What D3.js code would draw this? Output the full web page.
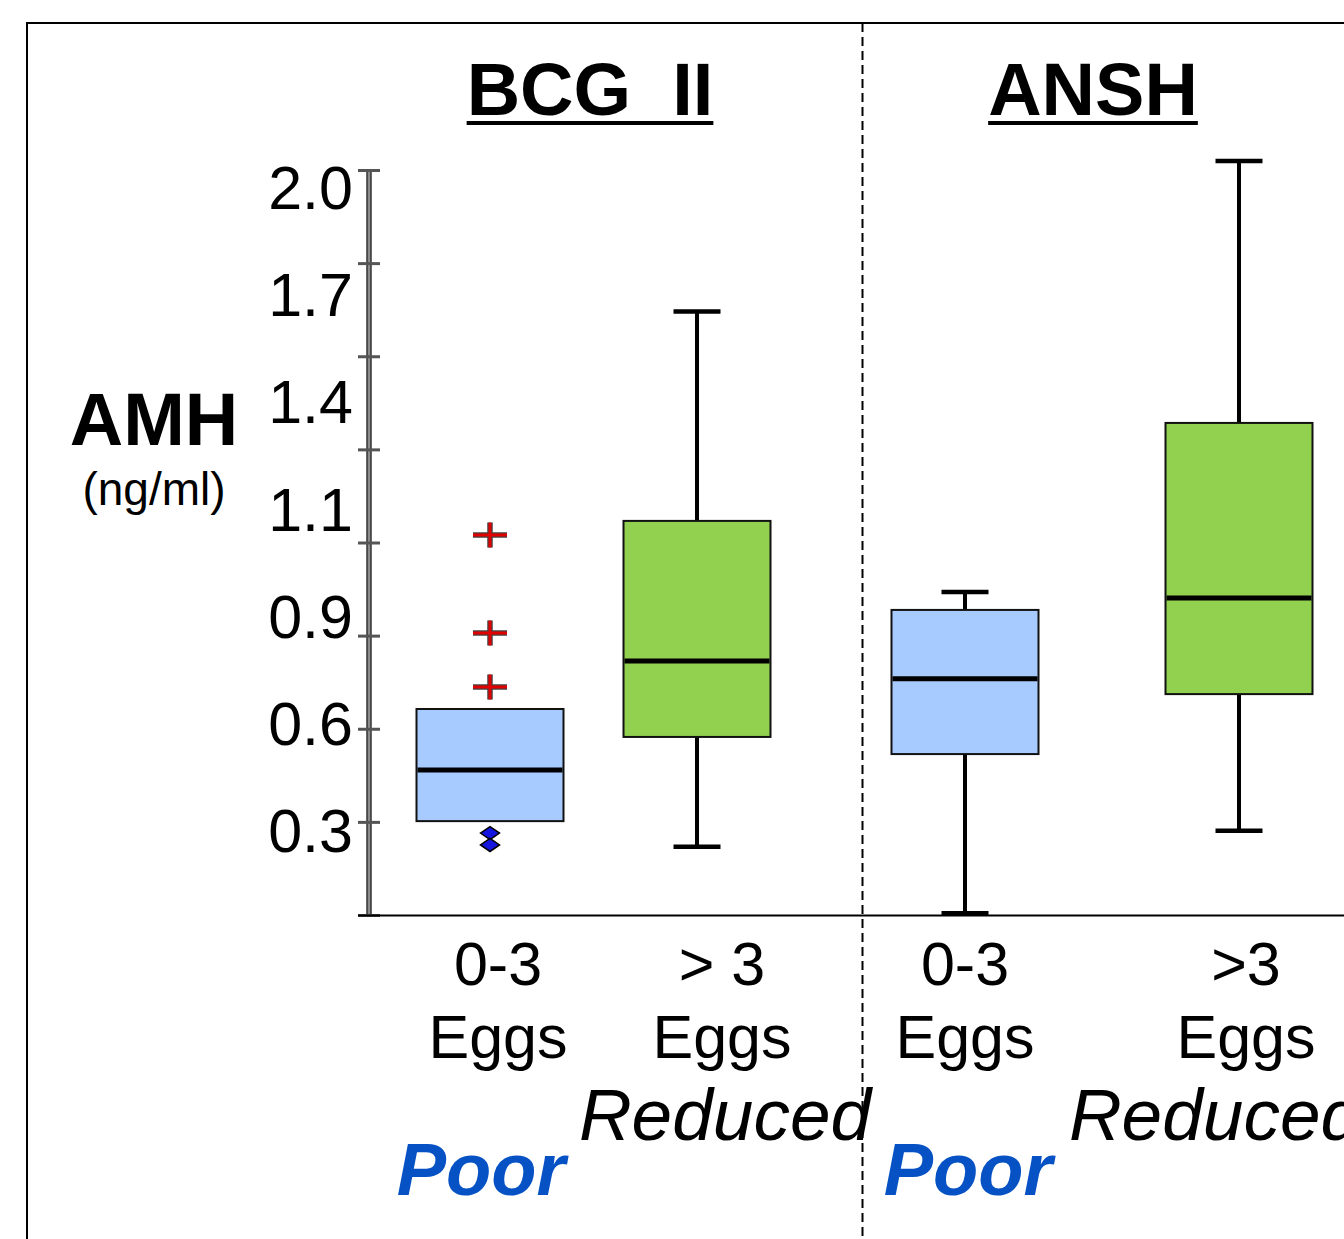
<!DOCTYPE html>
<html>
<head>
<meta charset="utf-8">
<script src="https://cdn.jsdelivr.net/npm/d3@7"></script>
<style>
  body { margin: 0; background: #fff; }
  svg { display: block; font-family: "Liberation Sans", Arial, sans-serif; }
</style>
</head>
<body>
<div id="container"></div>
<script>
/* ---------------- DATA ---------------- */
const panels = ["BCG_II", "ANSH"];
const boxPanel = ["BCG_II", "BCG_II", "ANSH", "ANSH"];
const labelTop = ["0-3", "> 3", "0-3", ">3"];
const labelBottom = ["Eggs", "Eggs", "Eggs", "Eggs"];
const groupName = ["Poor", "Reduced", "Poor", "Reduced"];

const whiskerHigh = [null, 1.62, 0.867, 2.024];
const q3 = [0.553, 1.058, 0.819, 1.321];
const median = [0.389, 0.682, 0.634, 0.851];
const q1 = [0.252, 0.478, 0.432, 0.593];
const whiskerLow = [null, 0.183, 0.005, 0.226];
const outliersHigh = [[1.02, 0.757, 0.612], [], [], []];
const outliersLow = [[0.22, 0.188], [], [], []];

const tickValues = [0, 0.25, 0.5, 0.75, 1.0, 1.25, 1.5, 1.75, 2.0];
const tickLabels = ["2.0", "1.7", "1.4", "1.1", "0.9", "0.6", "0.3"];

const fillColor = { Poor: "#a8cbff", Reduced: "#92d050" };

/* ---------------- SETUP ---------------- */
const W = 1344, H = 1239;
const svg = d3.select("#container").append("svg")
  .attr("width", W).attr("height", H);

const y = d3.scaleLinear().domain([0, 2]).range([915, 170]);

// one point scale per panel for boxes, count labels and group labels
const boxX = {
  BCG_II: d3.scalePoint().domain([0, 1]).range([490, 697]),
  ANSH: d3.scalePoint().domain([2, 3]).range([965, 1239])
};
const textX = {
  BCG_II: d3.scalePoint().domain([0, 1]).range([498, 722]),
  ANSH: d3.scalePoint().domain([2, 3]).range([965, 1246])
};
const groupX = {
  BCG_II: d3.scalePoint().domain([0, 1]).range([481, 725]),
  ANSH: d3.scalePoint().domain([2, 3]).range([968, 1215])
};
const titleX = d3.scalePoint().domain(panels).range([590, 1093]);
const labelY = d3.scalePoint().domain(tickLabels).range([209, 852]);

const boxW = 147, capW = 47;
const cx = i => boxX[boxPanel[i]](i);

/* ---------------- FRAME ---------------- */
svg.append("path")
  .attr("d", `M27,${H} V23 H${W}`)
  .attr("fill", "none").attr("stroke", "#000").attr("stroke-width", 2);

svg.append("line")
  .attr("x1", 862.5).attr("x2", 862.5).attr("y1", 23).attr("y2", H)
  .attr("stroke", "#000").attr("stroke-width", 2)
  .attr("stroke-dasharray", "9,5");

/* ---------------- TITLES ---------------- */
panels.forEach(p => {
  const t = svg.append("text")
    .attr("x", titleX(p)).attr("y", 115)
    .attr("text-anchor", "middle")
    .attr("font-size", 74).attr("font-weight", "bold")
    .text(p);
  const len = t.node().getComputedTextLength();
  svg.append("line")
    .attr("x1", titleX(p) - len / 2).attr("x2", titleX(p) + len / 2)
    .attr("y1", 123).attr("y2", 123)
    .attr("stroke", "#000").attr("stroke-width", 4);
});

/* ---------------- Y AXIS ---------------- */
svg.append("text")
  .attr("x", 154).attr("y", 445)
  .attr("text-anchor", "middle")
  .attr("font-size", 74).attr("font-weight", "bold")
  .text("AMH");
svg.append("text")
  .attr("x", 154).attr("y", 505)
  .attr("text-anchor", "middle")
  .attr("font-size", 46)
  .text("(ng/ml)");

const axisG = svg.append("g")
  .attr("transform", "translate(369,0)")
  .call(d3.axisLeft(y).tickValues(tickValues).tickFormat("").tickSizeOuter(0));
axisG.select(".domain").remove();
axisG.insert("line", ":first-child")
  .attr("y1", y(2)).attr("y2", y(0))
  .attr("stroke", "#333").attr("stroke-width", 5.5);
axisG.insert("line", ".tick")
  .attr("y1", y(2)).attr("y2", y(0))
  .attr("stroke", "#8c8c8c").attr("stroke-width", 2.5);
axisG.selectAll(".tick line")
  .attr("x1", -11).attr("x2", 11)
  .attr("stroke", "#555").attr("stroke-width", 3);

svg.selectAll(".ylab")
  .data(tickLabels)
  .enter().append("text")
  .attr("class", "ylab")
  .attr("x", 353).attr("y", d => labelY(d))
  .attr("text-anchor", "end")
  .attr("font-size", 61)
  .text(d => d);

// baseline of the plot
svg.append("line")
  .attr("x1", 358).attr("x2", W).attr("y1", y(0) + 0.5).attr("y2", y(0) + 0.5)
  .attr("stroke", "#000").attr("stroke-width", 2);

/* ---------------- BOXES ---------------- */
const idx = d3.range(q3.length);

idx.forEach(i => {
  const x = cx(i);
  const g = svg.append("g");

  if (whiskerHigh[i] != null) {
    g.append("line")
      .attr("x1", x).attr("x2", x).attr("y1", y(whiskerHigh[i])).attr("y2", y(q3[i]))
      .attr("stroke", "#000").attr("stroke-width", 4);
    g.append("line")
      .attr("x1", x - capW / 2).attr("x2", x + capW / 2)
      .attr("y1", y(whiskerHigh[i])).attr("y2", y(whiskerHigh[i]))
      .attr("stroke", "#000").attr("stroke-width", 4.5);
  }
  if (whiskerLow[i] != null) {
    g.append("line")
      .attr("x1", x).attr("x2", x).attr("y1", y(q1[i])).attr("y2", y(whiskerLow[i]))
      .attr("stroke", "#000").attr("stroke-width", 4);
    g.append("line")
      .attr("x1", x - capW / 2).attr("x2", x + capW / 2)
      .attr("y1", y(whiskerLow[i])).attr("y2", y(whiskerLow[i]))
      .attr("stroke", "#000").attr("stroke-width", 4.5);
  }

  g.append("rect")
    .attr("x", x - boxW / 2).attr("y", y(q3[i]))
    .attr("width", boxW).attr("height", y(q1[i]) - y(q3[i]))
    .attr("fill", fillColor[groupName[i]])
    .attr("stroke", "#111").attr("stroke-width", 2);

  g.append("line")
    .attr("x1", x - boxW / 2 + 1).attr("x2", x + boxW / 2 - 1)
    .attr("y1", y(median[i])).attr("y2", y(median[i]))
    .attr("stroke", "#000").attr("stroke-width", 5);

  // high outliers: red plus
  outliersHigh[i].forEach(v => {
    const p = `M${x - 17},${y(v)} H${x + 17} M${x},${y(v) - 12.5} V${y(v) + 12.5}`;
    g.append("path").attr("d", p).attr("stroke", "#444").attr("stroke-width", 5.5);
    g.append("path").attr("d", p).attr("stroke", "#e00000").attr("stroke-width", 3);
  });

  // low outliers: blue diamonds
  outliersLow[i].forEach(v => {
    const yy = y(v);
    g.append("path")
      .attr("d", `M${x - 9.5},${yy} L${x},${yy - 6.5} L${x + 9.5},${yy} L${x},${yy + 6.5} Z`)
      .attr("fill", "#1515e0").attr("stroke", "#000").attr("stroke-width", 1.5);
  });
});

/* ---------------- X LABELS ---------------- */
idx.forEach(i => {
  const tx = textX[boxPanel[i]](i);
  svg.append("text")
    .attr("x", tx).attr("y", 985)
    .attr("text-anchor", "middle").attr("font-size", 61)
    .text(labelTop[i]);
  svg.append("text")
    .attr("x", tx).attr("y", 1058)
    .attr("text-anchor", "middle").attr("font-size", 61)
    .text(labelBottom[i]);

  const gx = groupX[boxPanel[i]](i);
  const poor = groupName[i] === "Poor";
  svg.append("text")
    .attr("x", gx).attr("y", poor ? 1195 : 1140)
    .attr("text-anchor", "middle")
    .attr("font-size", poor ? 74 : 73)
    .attr("font-style", "italic")
    .attr("font-weight", poor ? "bold" : "normal")
    .attr("fill", poor ? "#0652c5" : "#000")
    .text(groupName[i]);
});
</script>
</body>
</html>
